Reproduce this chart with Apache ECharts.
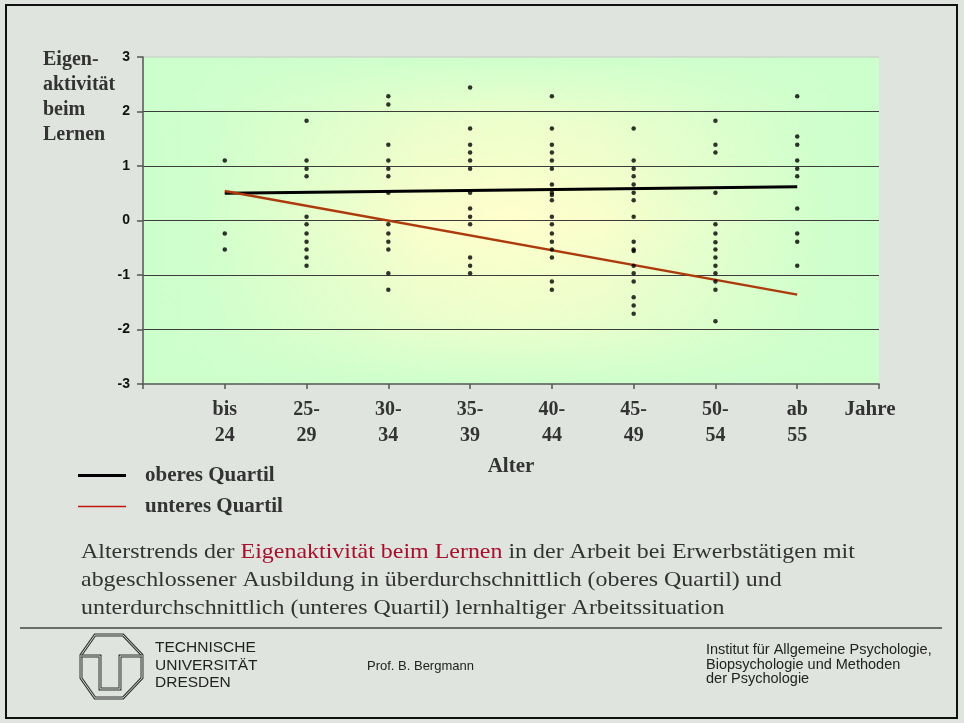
<!DOCTYPE html>
<html>
<head>
<meta charset="utf-8">
<script src="https://cdn.jsdelivr.net/npm/echarts@6/dist/echarts.min.js"></script>
<style>
  html, body { margin: 0; padding: 0; background: #dfe5de; }
  #chart { width: 964px; height: 723px; }
</style>
</head>
<body>
<div id="chart"></div>
<script>
// Age groups (x positions 1..8 on the value axis)
const categories = ['bis\n24', '25-\n29', '30-\n34', '35-\n39', '40-\n44', '45-\n49', '50-\n54', 'ab\n55'];

// Individual scores per age group
const bis24 = [1.10, -0.24, -0.53];
const age25to29 = [1.83, 1.10, 0.95, 0.81, 0.07, -0.07, -0.24, -0.39, -0.53, -0.68, -0.83];
const age30to34 = [2.28, 2.13, 1.39, 1.10, 0.95, 0.81, 0.51, -0.07, -0.24, -0.39, -0.53, -0.97, -1.27];
const age35to39 = [2.44, 1.69, 1.39, 1.25, 1.10, 0.95, 0.51, 0.22, 0.07, -0.07, -0.68, -0.83, -0.97];
const age40to44 = [2.28, 1.69, 1.39, 1.25, 1.10, 0.95, 0.66, 0.51, 0.47, 0.37, 0.07, -0.07, -0.24, -0.39, -0.53, -0.68, -1.12, -1.27];
const age45to49 = [1.69, 1.10, 0.95, 0.81, 0.66, 0.51, 0.37, 0.07, -0.39, -0.53, -0.56, -0.83, -0.97, -1.12, -1.41, -1.56, -1.71];
const age50to54 = [1.83, 1.39, 1.25, 0.51, -0.07, -0.24, -0.40, -0.53, -0.68, -0.83, -0.97, -1.12, -1.27, -1.85];
const ab55 = [2.28, 1.54, 1.39, 1.10, 0.95, 0.81, 0.22, -0.24, -0.39, -0.83];

// Trend lines: value at first and last age group
const oberesQuartil = [0.50, 0.62];
const unteresQuartil = [0.54, -1.36];

const yTicks = [-3, -2, -1, 0, 1, 2, 3];

const groups = [bis24, age25to29, age30to34, age35to39, age40to44, age45to49, age50to54, ab55];
const scatterData = [];
groups.forEach((vals, i) => vals.forEach(v => scatterData.push([i + 1, v])));
const trend = arr => [[1, arr[0]], [categories.length, arr[1]]];

// plot area
const G = { left: 143, top: 57, width: 736, height: 327 };

const serif = '"Liberation Serif", "Times New Roman", serif';
const sans = '"Liberation Sans", Arial, sans-serif';
const textGrey = '#333';

const chart = echarts.init(document.getElementById('chart'));

const octagon = [[95, 635], [123, 635], [142, 655], [142, 678], [123, 698], [95, 698], [81, 678], [81, 655]];
const uBar = [[81, 656], [100, 656], [100, 689], [120, 689], [120, 656], [142, 656]];

const legendText = { fontFamily: serif, fontWeight: 'bold', fontSize: 21, color: textGrey, padding: [0, 0, 0, 14] };

chart.setOption({
  animation: false,
  grid: { left: G.left, top: G.top, width: G.width, height: G.height },
  xAxis: {
    type: 'value', min: 0, max: 9, interval: 1,
    axisLine: { show: true, onZero: false, lineStyle: { color: '#555', width: 1.5 } },
    axisTick: { show: true, length: 5, lineStyle: { color: '#555', width: 1.5 } },
    splitLine: { show: false },
    axisLabel: {
      margin: 13,
      formatter: v => categories[v - 1] || '',
      fontFamily: serif, fontWeight: 'bold', fontSize: 20, lineHeight: 26, color: textGrey
    }
  },
  yAxis: {
    type: 'value', min: yTicks[0], max: yTicks[yTicks.length - 1], interval: 1,
    axisLine: { show: true, lineStyle: { color: '#555', width: 1.5 } },
    axisTick: { show: true, length: 6, lineStyle: { color: '#555', width: 1.5 } },
    splitLine: { show: true, showMinLine: false, showMaxLine: false, lineStyle: { color: '#3c3c3c', width: 1 } },
    axisLabel: { margin: 13, fontFamily: sans, fontWeight: 'bold', fontSize: 14, color: '#111' }
  },
  legend: [
    {
      data: [{ name: 'oberes Quartil', icon: 'rect' }],
      left: 73, top: 460, itemWidth: 48, itemHeight: 3,
      textStyle: legendText
    },
    {
      data: [{ name: 'unteres Quartil', icon: 'rect', itemStyle: { color: '#c0180f' } }],
      left: 73, top: 491, itemWidth: 48, itemHeight: 1.5,
      textStyle: legendText
    }
  ],
  series: [
    {
      name: 'oberes Quartil', type: 'line', data: trend(oberesQuartil),
      showSymbol: false, lineStyle: { color: '#000', width: 3 }, itemStyle: { color: '#000' }, z: 3
    },
    {
      name: 'unteres Quartil', type: 'line', data: trend(unteresQuartil),
      showSymbol: false, lineStyle: { color: '#ad3a0c', width: 2.5 }, itemStyle: { color: '#ad3a0c' }, z: 3
    },
    {
      name: 'Werte', type: 'scatter', data: scatterData,
      symbolSize: 4.5, itemStyle: { color: '#000' }, z: 4
    }
  ],
  graphic: [
    // plot background: horizontal green-yellow-green ramp
    {
      type: 'rect', z: -10, silent: true,
      shape: { x: G.left, y: G.top, width: G.width, height: G.height },
      style: {
        fill: new echarts.graphic.LinearGradient(0, 0, 1, 0, [
          { offset: 0, color: '#ccffcc' },
          { offset: 0.08, color: '#d0ffcc' },
          { offset: 0.38, color: '#fafecc' },
          { offset: 0.5, color: '#ffffcc' },
          { offset: 0.62, color: '#fafecc' },
          { offset: 0.92, color: '#d0ffcc' },
          { offset: 1, color: '#ccffcc' }
        ])
      }
    },
    // vertical green fade toward top and bottom
    {
      type: 'rect', z: -9, silent: true,
      shape: { x: G.left, y: G.top, width: G.width, height: G.height },
      style: {
        fill: new echarts.graphic.LinearGradient(0, 0, 0, 1, [
          { offset: 0, color: 'rgba(204,255,204,0.95)' },
          { offset: 0.2, color: 'rgba(204,255,204,0.35)' },
          { offset: 0.5, color: 'rgba(204,255,204,0)' },
          { offset: 0.8, color: 'rgba(204,255,204,0.35)' },
          { offset: 1, color: 'rgba(204,255,204,0.95)' }
        ])
      }
    },
    { type: 'line', z: -8, silent: true, shape: { x1: G.left, y1: G.top, x2: G.left + G.width, y2: G.top }, style: { stroke: '#c4c8c4', lineWidth: 1 } },
    // outer frame
    { type: 'rect', silent: true, shape: { x: 6, y: 5, width: 951, height: 713 }, style: { fill: 'none', stroke: '#111', lineWidth: 2 } },
    // axis titles
    {
      type: 'text', left: 43, top: 47,
      style: { text: 'Eigen-\naktivität\nbeim\nLernen', font: 'bold 20px ' + serif, fill: textGrey, lineHeight: 25 }
    },
    { type: 'text', x: 870, y: 410, style: { text: 'Jahre', font: 'bold 21px ' + serif, fill: textGrey, align: 'center', verticalAlign: 'middle' } },
    { type: 'text', x: 511, y: 467, style: { text: 'Alter', font: 'bold 21px ' + serif, fill: textGrey, align: 'center', verticalAlign: 'middle' } },
    // caption
    {
      type: 'text', x: 81, y: 538, scaleX: 1.14,
      style: {
        text: '{n|Alterstrends der }{r|Eigenaktivität beim Lernen}{n| in der Arbeit bei Erwerbstätigen mit}\n' +
              '{n|abgeschlossener Ausbildung in überdurchschnittlich (oberes Quartil) und}\n' +
              '{n|unterdurchschnittlich (unteres Quartil) lernhaltiger Arbeitssituation}',
        rich: {
          n: { font: '21px ' + serif, fill: '#333', lineHeight: 28.3 },
          r: { font: '21px ' + serif, fill: '#a80f2c', lineHeight: 28.3 }
        }
      }
    },
    // footer separator
    { type: 'line', silent: true, shape: { x1: 20, y1: 628, x2: 942, y2: 628 }, style: { stroke: '#444', lineWidth: 1.5 } },
    // university logo
    { type: 'polygon', silent: true, shape: { points: octagon }, style: { fill: 'none', stroke: '#333', lineWidth: 3 } },
    { type: 'polygon', silent: true, shape: { points: octagon }, style: { fill: 'none', stroke: '#d8dcd8', lineWidth: 1 } },
    { type: 'polyline', silent: true, shape: { points: uBar }, style: { stroke: '#333', lineWidth: 3 } },
    { type: 'polyline', silent: true, shape: { points: uBar }, style: { stroke: '#d8dcd8', lineWidth: 1 } },
    {
      type: 'text', x: 155, y: 639,
      style: { text: 'TECHNISCHE\nUNIVERSITÄT\nDRESDEN', font: '15.5px ' + sans, fill: '#222', lineHeight: 17.5 }
    },
    { type: 'text', x: 367, y: 666, style: { text: 'Prof. B. Bergmann', font: '13px ' + sans, fill: '#222', verticalAlign: 'middle' } },
    {
      type: 'text', x: 706, y: 643,
      style: { text: 'Institut für Allgemeine Psychologie,\nBiopsychologie und Methoden\nder Psychologie', font: '14.5px ' + sans, fill: '#222', lineHeight: 14.5 }
    }
  ]
});
</script>
</body>
</html>
